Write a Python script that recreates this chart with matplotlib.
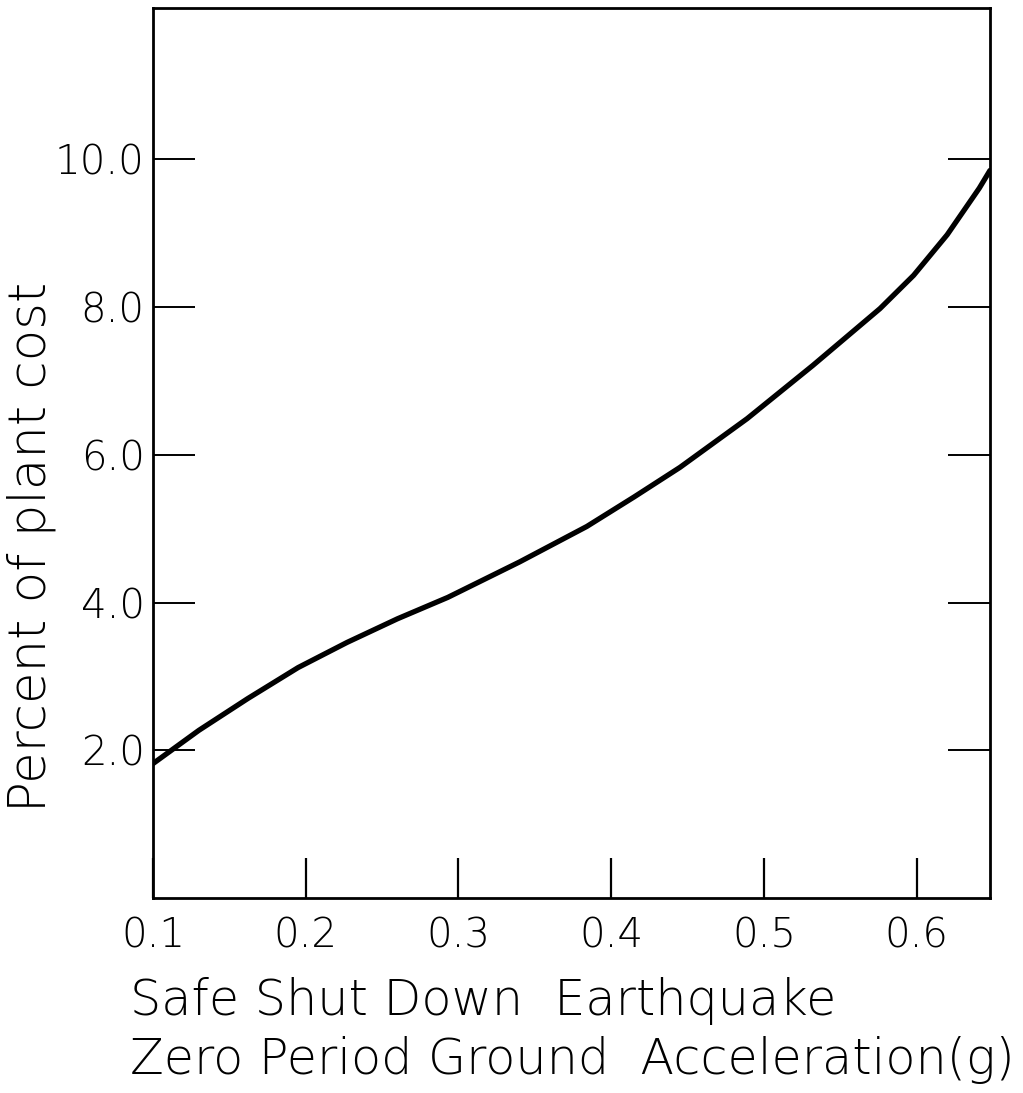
"""Seismic design cost vs. safe shutdown earthquake acceleration."""

import matplotlib
matplotlib.use("Agg")
import matplotlib.pyplot as plt

# values
accel_g = [0.100, 0.130, 0.162, 0.195, 0.227, 0.260, 0.293, 0.340, 0.384,
           0.415, 0.445, 0.489, 0.532, 0.576, 0.598, 0.620, 0.641, 0.648]
pct_cost = [1.82, 2.27, 2.70, 3.12, 3.46, 3.78, 4.07, 4.55, 5.03,
            5.43, 5.83, 6.49, 7.21, 7.98, 8.43, 8.98, 9.61, 9.85]

x_ticks = [0.1, 0.2, 0.3, 0.4, 0.5, 0.6]
x_tick_labels = ["0.1", "0.2", "0.3", "0.4", "0.5", "0.6"]
y_ticks = [2.0, 4.0, 6.0, 8.0, 10.0]
y_tick_labels = ["2.0", "4.0", "6.0", "8.0", "10.0"]

FONT = ["DejaVu Sans"]


def fit_text(fig, txt, target_px):
    """Scale a text's font size so its width matches target_px."""
    r = fig.canvas.get_renderer()
    bb = txt.get_window_extent(renderer=r)
    txt.set_fontsize(txt.get_fontsize() * target_px / bb.width)


fig = plt.figure(figsize=(10.23, 10.93), dpi=100)
ax = fig.add_axes([0.1496, 0.1784, 0.8181, 0.8143])

ax.plot(accel_g, pct_cost, color="black", linewidth=3.8,
        solid_capstyle="round", solid_joinstyle="round")

ax.set_xlim(0.1, 0.648)
ax.set_ylim(0.0, 12.05)

for s in ax.spines.values():
    s.set_linewidth(2.0)

ax.set_xticks(x_ticks)
ax.set_xticklabels(x_tick_labels, family=FONT, fontweight="light",
                   fontsize=29)
ax.set_yticks(y_ticks)
ax.set_yticklabels(y_tick_labels, family=FONT, fontweight="light",
                   fontsize=29)
ax.tick_params(axis="x", direction="in", length=29, width=1.6, pad=13,
               top=False, colors="black")
ax.tick_params(axis="y", direction="in", length=30, width=1.4, pad=6,
               right=True, colors="black")

fig.text(0.031, 0.50, "Percent of plant cost", rotation=90,
         ha="center", va="center", family=FONT,
         fontweight="light", fontsize=37)
xl1 = fig.text(0.127, 0.0845, "Safe Shut Down  Earthquake", ha="left",
               va="center", family=FONT, fontweight="light",
               fontsize=30)
xl2 = fig.text(0.127, 0.0305, "Zero Period Ground  Acceleration(g)",
               ha="left", va="center", family=FONT,
               fontweight="light", fontsize=30)

fig.canvas.draw()
fit_text(fig, xl2, 885)
xl1.set_fontsize(xl2.get_fontsize())

fig.savefig("out.png", dpi=100, facecolor="white")
